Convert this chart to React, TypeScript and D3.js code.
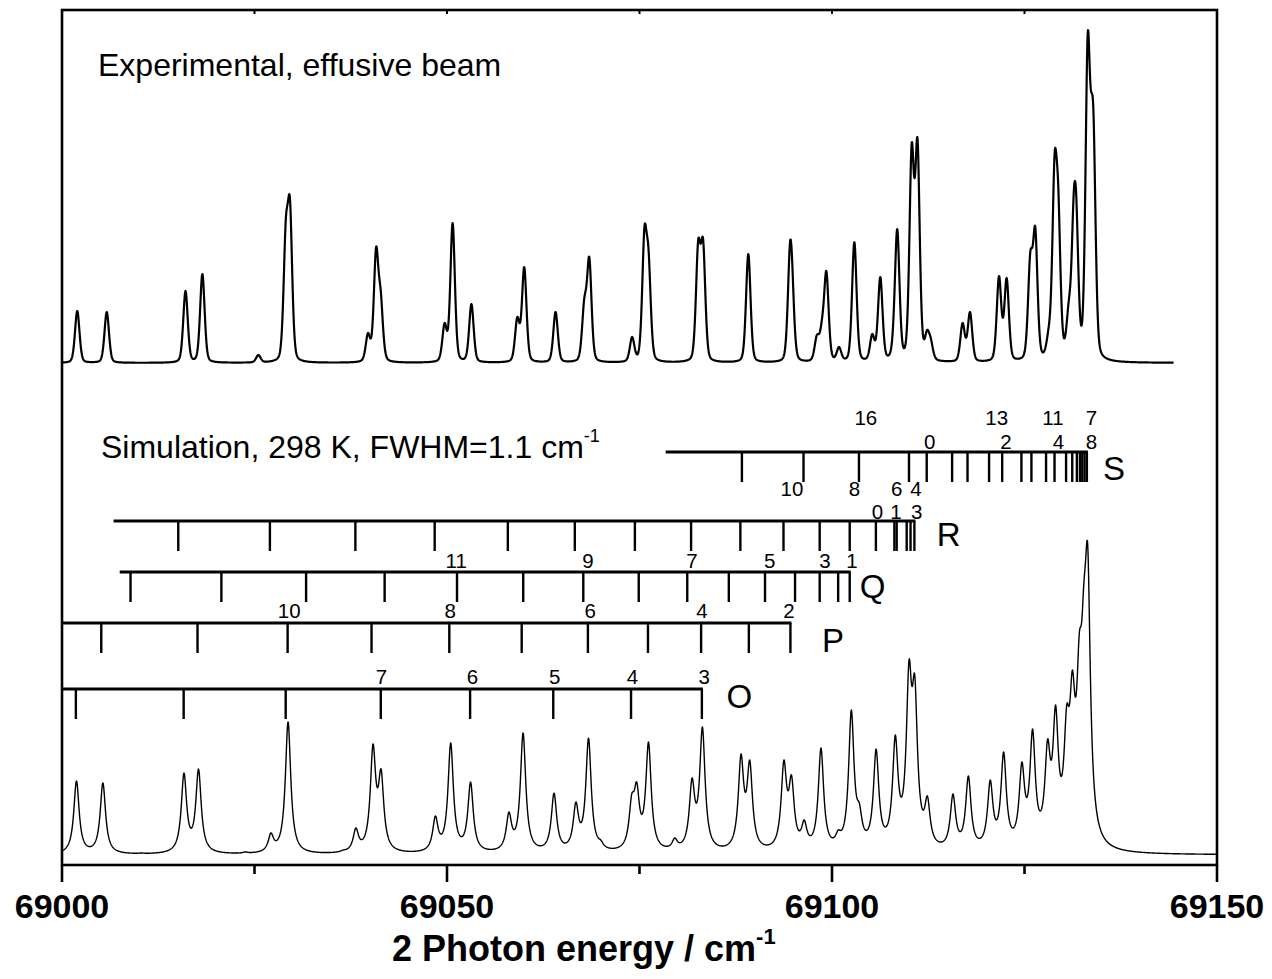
import * as d3 from 'd3';

// ---- axis ----
const xTicks = [69000, 69050, 69100, 69150];
const xMinorTicks = [69025, 69075, 69125];

// ---- experimental trace: peak positions (cm-1) and heights (arb.) ----
const expPos = [
  69001.98, 69005.81, 69016.04, 69018.23, 69025.5, 69029.06, 69029.61, 69039.74, 69040.79, 69041.39,
  69049.69, 69050.73, 69053.17, 69059.13, 69060.03, 69064.1, 69067.83, 69068.48, 69074.04, 69075.64,
  69076.18, 69082.62, 69083.26, 69089.13, 69094.55, 69094.84, 69098.03, 69098.68, 69099.27, 69100.91,
  69102.9, 69105.23, 69106.27, 69108.01, 69108.47, 69110.35, 69111.1, 69112.34, 69112.83, 69116.96,
  69117.92, 69121.69, 69122.68, 69125.75, 69126.4, 69128.14, 69128.9, 69129.39, 69130.73, 69131.38,
  69131.73, 69133.21, 69133.71, 69133.96,
];
const expHeight = [
  52, 51, 72, 89, 8, 143, 164, 30, 116, 73,
  40, 140, 59, 46, 96, 51, 65, 106, 26, 136,
  113, 123, 124, 109, 121, 100, 28, 43, 92, 16,
  121, 29, 86, 50, 134, 220, 225, 33, 25, 40,
  51, 87, 85, 111, 136, 36, 208, 176, 61, 168,
  166, 330, 270, 250,
];
const expEnd = 69144.4;

// ---- simulated trace: stick positions (cm-1) and heights (arb.) ----
const simPos = [
  69001.88, 69005.31, 69010.3, 69015.84, 69017.73, 69023.8, 69027.13, 69029.36, 69036.52, 69038.16,
  69040.39, 69041.44, 69048.49, 69050.48, 69053.06, 69058.04, 69059.88, 69063.9, 69066.74, 69068.38,
  69069.97, 69073.99, 69074.64, 69076.17, 69079.58, 69081.82, 69083.17, 69086.99, 69088.18, 69089.32,
  69091.47, 69093.75, 69094.74, 69096.39, 69098.57, 69100.81, 69102.51, 69103.55, 69105.73, 69108.22,
  69110.0, 69110.75, 69112.39, 69115.71, 69117.71, 69120.55, 69122.29, 69124.66, 69126.05, 69128.0,
  69129.04, 69130.48, 69131.22, 69132.12, 69132.71, 69133.21,
];
const simHeight = [
  74, 72, 2, 82, 86, 3, 22, 133, 5, 27,
  111, 86, 39, 112, 73, 43, 122, 62, 53, 117,
  15, 61, 73, 113, 17, 77, 128, 12, 101, 95,
  10, 95, 80, 35, 107, 25, 145, 52, 106, 120,
  195, 180, 59, 61, 79, 75, 103, 93, 126, 116,
  150, 150, 185, 222, 272, 310,
];

// ---- rotational branch assignments ----
const sSticks = [
  69088.3, 69096.3, 69103.5, 69110.0, 69112.3, 69115.6, 69117.6, 69120.4, 69122.1, 69124.6,
  69125.9, 69127.8, 69128.9, 69130.4, 69131.2, 69131.8, 69132.2, 69132.5, 69132.8, 69133.1,
];
const rSticks = [
  69015.1, 69027.0, 69038.1, 69048.4, 69057.9, 69066.6, 69074.4, 69081.7, 69088.1, 69093.7,
  69098.4, 69102.3, 69105.7, 69108.1, 69108.4, 69109.7, 69110.2, 69110.7,
];
const qSticks = [
  69008.9, 69020.7, 69031.7, 69041.9, 69051.3, 69059.9, 69067.7, 69074.9, 69081.2, 69086.6,
  69091.3, 69095.2, 69098.4, 69100.8, 69102.3,
];
const pSticks = [
  69005.1, 69017.6, 69029.3, 69040.2, 69050.3, 69059.7, 69068.3, 69076.1, 69083.0, 69089.2, 69094.6,
];
const oSticks = [69001.8, 69015.8, 69029.05, 69041.4, 69053.0, 69063.8, 69073.9, 69083.1];

const sLabelsUpper = ['16', '13', '11', '7'];
const sLabelsUpperPos = [69104.4, 69121.4, 69128.7, 69133.7];
const sLabelsLower = ['0', '2', '4', '8'];
const sLabelsLowerPos = [69112.7, 69122.6, 69129.4, 69133.7];
const rLabelsUpper = ['10', '8', '6', '4'];
const rLabelsUpperPos = [69094.8, 69102.9, 69108.4, 69110.9];
const rLabelsLower = ['0', '1', '3'];
const rLabelsLowerPos = [69105.9, 69108.3, 69111.0];
const qLabels = ['11', '9', '7', '5', '3', '1'];
const qLabelsPos = [69051.2, 69068.3, 69081.8, 69091.9, 69099.1, 69102.6];
const pLabels = ['10', '8', '6', '4', '2'];
const pLabelsPos = [69029.5, 69050.4, 69068.6, 69083.1, 69094.4];
const oLabels = ['7', '6', '5', '4', '3'];
const oLabelsPos = [69041.5, 69053.3, 69064.0, 69074.1, 69083.4];

const branchNames = ['S', 'R', 'Q', 'P', 'O'];
const branchStart = [69078.4, 69006.7, 69007.5, 69000, 69000];
const branchNamePos = [69135.2, 69113.6, 69103.6, 69098.7, 69086.3];

const W = 1272;
const H = 979;
const FONT = '"Liberation Sans", Arial, Helvetica, sans-serif';
const SIM_HWHM = 0.42;
const EXP_SIGMA = 0.3;
const EXP_HWHM = 0.32;

const lorentz = (d: number) => 1 / (1 + (d / SIM_HWHM) ** 2);
// experimental line shape: narrow core with broader skirts
const expShape = (d: number) =>
  0.7 * Math.exp(-0.5 * (d / EXP_SIGMA) ** 2) + 0.3 / (1 + (d / EXP_HWHM) ** 2);

// find amplitudes so that the summed profile reaches the read heights at the peak positions
function fitAmps(pos: number[], height: number[], shape: (d: number) => number) {
  const amp = height.slice();
  for (let it = 0; it < 300; it++) {
    for (let i = 0; i < pos.length; i++) {
      let s = 0;
      for (let j = 0; j < pos.length; j++) s += amp[j] * shape(pos[i] - pos[j]);
      amp[i] = Math.max(0, amp[i] + 0.5 * (height[i] - s));
    }
  }
  return amp;
}

function profile(pos: number[], amp: number[], shape: (d: number) => number, xs: number[]) {
  return xs.map((x) => {
    let s = 0;
    for (let j = 0; j < pos.length; j++) s += amp[j] * shape(x - pos[j]);
    return [x, s] as [number, number];
  });
}

export default function App() {
  const left = 62;
  const right = 1217;
  const top = 10;
  const bottom = 865;

  const x = d3.scaleLinear().domain([69000, 69150]).range([left, right]);
  const yExp = d3.scaleLinear().domain([0, 330]).range([363, 33]);
  const ySim = d3.scaleLinear().domain([0, 310]).range([855, 545]);

  const expAmp = fitAmps(expPos, expHeight, expShape);
  const simAmp = fitAmps(simPos, simHeight, lorentz);
  const expData = profile(expPos, expAmp, expShape, d3.range(69000, expEnd, 0.04));
  const simData = profile(simPos, simAmp, lorentz, d3.range(69000, 69150.001, 0.04));

  const expLine = d3.line<[number, number]>().x((d) => x(d[0])).y((d) => yExp(d[1]));
  const simLine = d3.line<[number, number]>().x((d) => x(d[0])).y((d) => ySim(d[1]));

  const branchSticks = [sSticks, rSticks, qSticks, pSticks, oSticks];
  const branchY = [452, 521, 572, 623, 689];
  const nameY = [480, 546, 598, 652, 708];
  const stickLen = 30;

  const labelRows = [
    { labels: sLabelsUpper, pos: sLabelsUpperPos, y: 425 },
    { labels: sLabelsLower, pos: sLabelsLowerPos, y: 449 },
    { labels: rLabelsUpper, pos: rLabelsUpperPos, y: 496 },
    { labels: rLabelsLower, pos: rLabelsLowerPos, y: 519 },
    { labels: qLabels, pos: qLabelsPos, y: 568 },
    { labels: pLabels, pos: pLabelsPos, y: 618 },
    { labels: oLabels, pos: oLabelsPos, y: 684 },
  ];

  return (
    <svg
      width={W}
      height={H}
      style={{ position: 'absolute', left: 0, top: 0, background: '#fff' }}
      fontFamily={FONT}
    >
      <rect width={W} height={H} fill="#fff" />

      {/* spectra */}
      <path d={expLine(expData) || ''} fill="none" stroke="#000" strokeWidth={2.2} strokeLinejoin="round" />
      <path d={simLine(simData) || ''} fill="none" stroke="#000" strokeWidth={1.4} strokeLinejoin="round" />

      {/* branch combs */}
      {branchSticks.map((sticks, b) => {
        const y0 = branchY[b];
        const end = d3.max(sticks) as number;
        return (
          <g key={branchNames[b]} stroke="#000" strokeWidth={2.4}>
            <line x1={x(branchStart[b])} x2={x(end) + 1} y1={y0} y2={y0} strokeWidth={3} />
            {sticks.map((s, i) => (
              <line key={i} x1={x(s)} x2={x(s)} y1={y0} y2={y0 + stickLen} />
            ))}
          </g>
        );
      })}
      {branchNames.map((n, b) => (
        <text key={n} x={x(branchNamePos[b])} y={nameY[b]} fontSize={33}>
          {n}
        </text>
      ))}
      {labelRows.map((row, r) =>
        row.labels.map((t, i) => (
          <text key={`${r}-${i}`} x={x(row.pos[i])} y={row.y} fontSize={20.5} textAnchor="middle">
            {t}
          </text>
        ))
      )}

      {/* annotations */}
      <text x={98} y={76} fontSize={32}>
        Experimental, effusive beam
      </text>
      <text x={101} y={458} fontSize={32}>
        Simulation, 298 K, FWHM=1.1 cm
        <tspan fontSize={18} dy={-16}>
          -1
        </tspan>
      </text>

      {/* frame */}
      <rect x={left} y={top} width={right - left} height={bottom - top} fill="none" stroke="#000" strokeWidth={2.6} />
      {[...xTicks, ...xMinorTicks].map((t) => (
        <line key={`t${t}`} x1={x(t)} x2={x(t)} y1={top} y2={top + 4} stroke="#000" strokeWidth={2} />
      ))}
      {xTicks.map((t) => (
        <g key={t}>
          <line x1={x(t)} x2={x(t)} y1={bottom} y2={bottom + 17} stroke="#000" strokeWidth={2.6} />
          <text x={x(t)} y={918} fontSize={34} fontWeight="bold" textAnchor="middle">
            {t}
          </text>
        </g>
      ))}
      {xMinorTicks.map((t) => (
        <line key={t} x1={x(t)} x2={x(t)} y1={bottom} y2={bottom + 9} stroke="#000" strokeWidth={2.6} />
      ))}
      <text x={392} y={961} fontSize={36} fontWeight="bold">
        2 Photon energy / cm
        <tspan fontSize={22} dy={-17}>
          -1
        </tspan>
      </text>
    </svg>
  );
}
